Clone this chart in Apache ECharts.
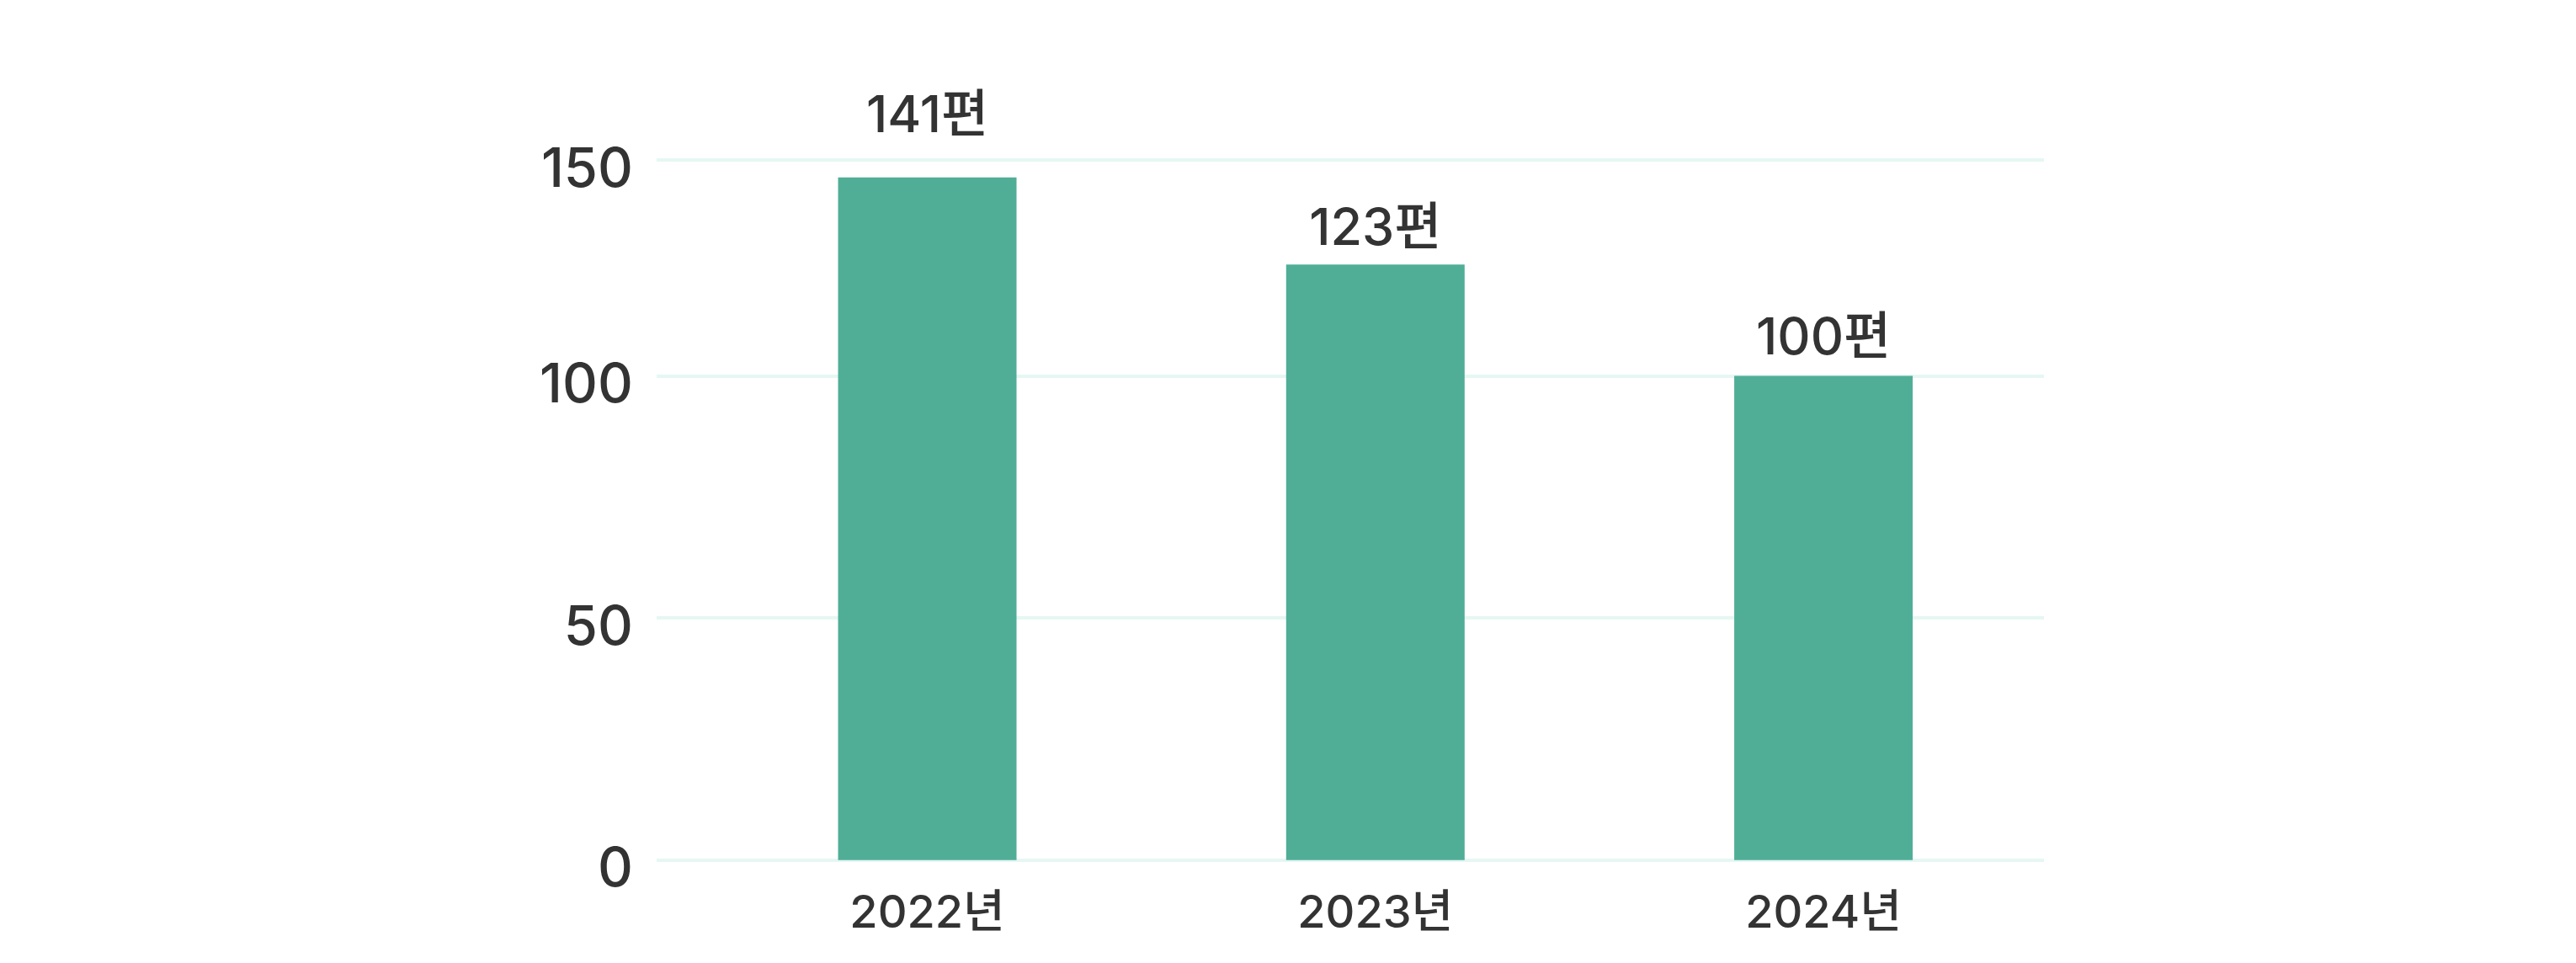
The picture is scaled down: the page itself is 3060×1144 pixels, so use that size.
<!DOCTYPE html>
<html>
<head>
<meta charset="utf-8">
<script src="https://cdn.jsdelivr.net/npm/echarts@6/dist/echarts.min.js"></script>
<style>
html,body{margin:0;padding:0;background:#fff;}
#chart{width:3060px;height:1144px;}
</style>
</head>
<body>
<div id="chart"></div>
<script>
const categories = ['2022년', '2023년', '2024년'];
const values = [141, 123, 100];
const yTickLabels = ['0', '50', '100', '150'];
const yMin = 0;
const yMax = 144.6;
const yInterval = 50;

const FONT = "Inter, 'Noto Sans CJK KR', sans-serif";
const TEXT = '#333333';
const labelDistance = [42, 11, 13];

const chart = echarts.init(document.getElementById('chart'), null, {renderer: 'canvas'});
const option = {
  backgroundColor: '#ffffff',
  animation: false,
  grid: [
    {left: 780, right: 632, top: 190, bottom: 122.3, containLabel: false},
    {left: 835.4, right: 627.8, top: 190, bottom: 122.3, containLabel: false}
  ],
  xAxis: [
    {type: 'category', gridIndex: 0, data: categories, show: false},
    {
      type: 'category', gridIndex: 1, data: categories,
      axisLine: {show: false}, axisTick: {show: false}, splitLine: {show: false},
      axisLabel: {fontFamily: FONT, fontSize: 54, fontWeight: 500, color: TEXT, margin: 37}
    }
  ],
  yAxis: [
    {
      type: 'value', gridIndex: 0, min: yMin, max: yMax, interval: yInterval,
      axisLine: {show: false}, axisTick: {show: false},
      splitLine: {show: true, lineStyle: {color: '#E6F7F3', width: 4}},
      axisLabel: {
        fontFamily: FONT, fontSize: 65, fontWeight: 500, color: TEXT, margin: 28,
        verticalAlign: 'top', lineHeight: 24,
        formatter: function (v, i) { return yTickLabels[i]; }
      }
    },
    {
      type: 'value', gridIndex: 1, min: yMin, max: yMax, interval: yInterval,
      show: false, splitLine: {show: false}
    }
  ],
  series: [{
    type: 'bar',
    xAxisIndex: 1, yAxisIndex: 1,
    barWidth: 212,
    itemStyle: {color: '#50AE97'},
    data: values.map(function (v, i) {
      return {value: v, label: {distance: labelDistance[i]}};
    }),
    label: {
      show: true, position: 'top',
      fontFamily: FONT, fontSize: 61, fontWeight: 500, color: TEXT,
      formatter: '{c}편'
    }
  }]
};
chart.setOption(option);
</script>
</body>
</html>
